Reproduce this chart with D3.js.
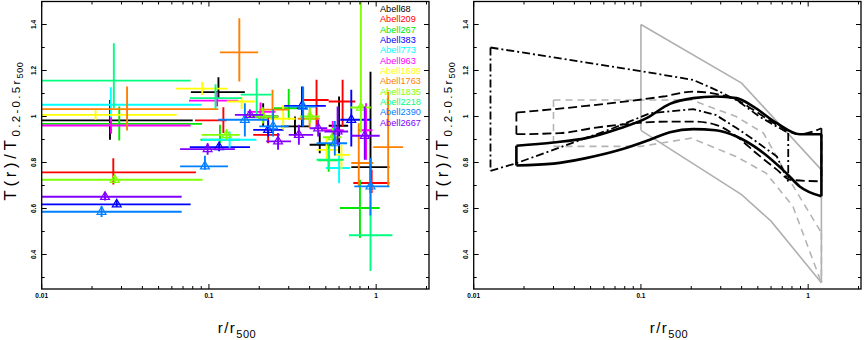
<!DOCTYPE html>
<html>
<head>
<meta charset="utf-8">
<script src="https://cdn.jsdelivr.net/npm/d3@7"></script>
<style>
  body { margin: 0; background: #fff; }
  text { font-family: "Liberation Sans", Arial, sans-serif; }
</style>
</head>
<body>
<script>
// cluster names, colours, and whether the points carry a triangle marker
const clusters = ["Abell68", "Abell209", "Abell267", "Abell383", "Abell773", "Abell963",
                  "Abell1689", "Abell1763", "Abell1835", "Abell2218", "Abell2390", "Abell2667"];
const colors = ["#000000", "#ff0000", "#00e800", "#0000ff", "#00ffff", "#ff00ff",
                "#ffff00", "#ff8000", "#80ff00", "#00ff80", "#0080ff", "#8000ff"];
const withTriangle = [false, false, false, true, false, false, false, false, true, false, true, true];

// each point: [r, rLo, rHi, T, TLo, THi]  (r in r500, T in T(0.2-0.5 r500))
const a68 = [[0.0256, 0.005, 0.080, 0.983, 0.899, 1.072], [0.114, 0.078, 0.164, 1.106, 1.08, 1.171],
             [0.211, 0.18, 0.26, 1.0, 0.957, 1.058], [0.327, 0.27, 0.40, 0.957, 0.913, 1.0],
             [0.46, 0.40, 0.56, 0.877, 0.84, 0.93], [0.60, 0.52, 0.68, 0.96, 0.84, 1.087],
             [0.925, 0.71, 1.2, 0.78, 0.667, 1.195]];
const a209 = [[0.0268, 0.005, 0.0836, 0.757, 0.704, 0.819], [0.122, 0.0825, 0.1275, 0.983, 0.928, 1.04],
              [0.226, 0.184, 0.265, 0.92, 0.884, 0.993], [0.44, 0.37, 0.52, 1.072, 0.957, 1.16],
              [0.63, 0.52, 0.75, 1.065, 0.957, 1.16], [0.94, 0.73, 1.2, 0.711, 0.667, 0.769]];
const a267 = [[0.0291, 0.005, 0.091, 0.968, 0.896, 1.043], [0.1164, 0.089, 0.153, 0.899, 0.884, 0.964],
              [0.30, 0.244, 0.366, 1.036, 0.986, 1.12], [0.52, 0.45, 0.60, 0.81, 0.76, 0.88],
              [0.80, 0.607, 1.05, 0.602, 0.472, 0.725]];
const a383 = [[0.0281, 0.005, 0.0777, 0.618, 0.606, 0.636], [0.115, 0.0768, 0.176, 0.867, 0.849, 0.884],
              [0.226, 0.184, 0.28, 0.942, 0.913, 0.986], [0.36, 0.28, 0.50, 1.046, 0.957, 1.13],
              [0.71, 0.61, 0.93, 0.986, 0.87, 1.116]];
const a773 = [[0.0259, 0.005, 0.0904, 1.051, 0.98, 1.127], [0.133, 0.091, 0.192, 0.899, 0.864, 0.935],
              [0.60, 0.50, 0.70, 0.776, 0.71, 0.84]];
const a963 = [[0.026, 0.005, 0.0777, 0.961, 0.925, 0.997], [0.112, 0.076, 0.15, 1.069, 1.043, 1.108],
              [0.2036, 0.17, 0.25, 1.02, 0.986, 1.061], [0.55, 0.47, 0.64, 0.94, 0.90, 0.98],
              [0.87, 0.78, 0.95, 0.94, 0.812, 1.058]];
const a1689 = [[0.021, 0.005, 0.0641, 1.007, 0.986, 1.029], [0.0912, 0.0636, 0.1288, 1.121, 1.094, 1.15],
               [0.157, 0.128, 0.188, 1.065, 1.033, 1.084], [0.278, 0.23, 0.33, 0.99, 0.942, 1.05],
               [0.505, 0.44, 0.59, 0.855, 0.812, 0.913], [0.62, 0.56, 0.70, 0.833, 0.77, 0.877]];
const a1763 = [[0.0324, 0.005, 0.1137, 1.032, 0.939, 1.130], [0.152, 0.1164, 0.197, 1.279, 1.152, 1.427],
               [0.24, 0.20, 0.30, 1.03, 0.986, 1.116], [0.40, 0.34, 0.46, 0.99, 0.95, 1.03],
               [0.787, 0.71, 0.96, 0.798, 0.696, 0.971], [1.18, 0.96, 1.45, 0.867, 0.696, 1.108]];
const a1835 = [[0.0273, 0.005, 0.0916, 0.725, 0.71, 0.74], [0.1276, 0.0904, 0.153, 0.920, 0.899, 0.942],
               [0.21, 0.17, 0.26, 1.0, 0.97, 1.04], [0.402, 0.35, 0.46, 1.0, 0.97, 1.04],
               [0.55, 0.48, 0.62, 0.91, 0.87, 0.95], [0.81, 0.70, 0.93, 1.039, 0.93, 1.6]];
const a2218 = [[0.027, 0.005, 0.0777, 1.156, 1.036, 1.318], [0.1095, 0.0768, 0.157, 1.08, 1.035, 1.14],
               [0.193, 0.155, 0.237, 1.095, 1.0, 1.166], [0.52, 0.44, 0.64, 0.812, 0.77, 0.86],
               [0.925, 0.687, 1.25, 0.484, 0.328, 0.725]];
const a2390 = [[0.0228, 0.005, 0.0687, 0.586, 0.563, 0.61], [0.0946, 0.0672, 0.13, 0.783, 0.769, 0.829],
               [0.164, 0.1137, 0.226, 0.986, 0.913, 1.058], [0.242, 0.20, 0.30, 0.957, 0.913, 1.03],
               [0.366, 0.30, 0.44, 1.043, 0.957, 1.13], [0.566, 0.44, 0.67, 0.884, 0.83, 0.98],
               [0.925, 0.74, 1.2, 0.696, 0.57, 0.82]];
const a2667 = [[0.0239, 0.005, 0.0687, 0.651, 0.635, 0.67], [0.0982, 0.0672, 0.143, 0.858, 0.834, 0.884],
               [0.176, 0.143, 0.211, 1.007, 0.993, 1.022], [0.259, 0.22, 0.31, 0.892, 0.855, 0.928],
               [0.345, 0.30, 0.42, 0.92, 0.877, 0.964], [0.45, 0.40, 0.51, 0.949, 0.913, 0.986],
               [0.588, 0.49, 0.68, 0.935, 0.877, 1.043], [0.855, 0.71, 1.05, 0.916, 0.812, 1.043]];
const profiles = [a68, a209, a267, a383, a773, a963, a1689, a1763, a1835, a2218, a2390, a2667];

// right panel: envelopes as [r, T] points
const greySolidUp = [[0.1, 1.4], [0.4, 1.145], [1.2, 0.768]];
const greySolidLo = [[0.1, 0.94], [0.4, 0.66], [0.6, 0.545], [1.2, 0.277]];
const greyDashUp = [[0.03, 1.072], [0.2, 1.072], [0.37, 1.0], [0.54, 0.928], [0.81, 0.70], [1.2, 0.494]];
const greyDashLo = [[0.03, 0.87], [0.1, 0.87], [0.2, 0.906], [0.37, 0.826], [0.56, 0.754], [0.81, 0.61], [1.2, 0.277]];
const solidUp = [[0.018, 0.873], [0.03, 0.887], [0.047, 0.906], [0.075, 0.949], [0.108, 0.993], [0.149, 1.055],
                 [0.2056, 1.08], [0.28, 1.087], [0.373, 1.08], [0.47, 1.043], [0.65, 0.971], [0.89, 0.923], [1.2, 0.923]];
const solidLo = [[0.018, 0.787], [0.03, 0.795], [0.047, 0.819], [0.075, 0.855], [0.113, 0.899], [0.149, 0.932],
                 [0.2056, 0.945], [0.28, 0.94], [0.373, 0.913], [0.51, 0.855], [0.74, 0.754], [0.89, 0.696], [1.2, 0.653]];
const dashUp = [[0.018, 1.017], [0.047, 1.046], [0.136, 1.087], [0.2056, 1.108], [0.28, 1.098], [0.373, 1.072],
                [0.47, 1.029], [0.65, 0.964], [0.89, 0.923], [1.2, 0.949]];
const dashLo = [[0.018, 0.923], [0.033, 0.928], [0.052, 0.95], [0.149, 0.978], [0.2056, 0.978], [0.28, 0.964],
                [0.373, 0.913], [0.49, 0.84], [0.65, 0.769], [0.78, 0.725], [1.2, 0.718]];
const dotUp = [[0.0126, 1.30], [0.113, 1.191], [0.2056, 1.159], [0.28, 1.116], [0.373, 1.072], [0.51, 1.0], [0.76, 0.928]];
const dotLo = [[0.0126, 0.764], [0.018, 0.797], [0.068, 0.949], [0.113, 1.014], [0.2056, 1.032], [0.28, 1.007],
               [0.373, 0.95], [0.47, 0.9], [0.65, 0.826], [0.76, 0.718]];

// tick values
const xMajor = [0.01, 0.1, 1];
const xMinor = [0.02, 0.03, 0.04, 0.05, 0.06, 0.07, 0.08, 0.09, 0.2, 0.3, 0.4, 0.5, 0.6, 0.7, 0.8, 0.9, 2];
const xLabels = ["0.01", "0.1", "1"];
const yMajor = [0.4, 0.6, 0.8, 1.0, 1.2, 1.4];
const yMinor = [0.3, 0.5, 0.7, 0.9, 1.1, 1.3, 1.5];
const yLabels = ["0.4", "0.6", "0.8", "1", "1.2", "1.4"];

const width = 864, height = 340;
const pw = 387.3, ph = 287.5, plotTop = 1.5;
const panelLeft = [41.7, 473.7];

const x = d3.scaleLog().domain([0.01, 2.07]).range([0, pw]);
const y = d3.scaleLinear().domain([0.25, 1.5]).range([ph, 0]);

const svg = d3.select("body").append("svg")
    .attr("width", width).attr("height", height);

svg.append("defs").append("clipPath").attr("id", "plotclip")
  .append("rect").attr("width", pw).attr("height", ph);

function drawFrame(g) {
  g.append("rect").attr("width", pw).attr("height", ph)
    .attr("fill", "none").attr("stroke", "#000").attr("stroke-width", 1.3);

  // inward ticks on all four sides
  const ticks = g.append("g").attr("stroke", "#000").attr("stroke-width", 1);
  xMajor.concat(xMinor).forEach(function(v) {
    const len = xMajor.includes(v) ? 5 : 3;
    ticks.append("line").attr("x1", x(v)).attr("x2", x(v)).attr("y1", ph).attr("y2", ph - len);
    ticks.append("line").attr("x1", x(v)).attr("x2", x(v)).attr("y1", 0).attr("y2", len);
  });
  yMajor.concat(yMinor).forEach(function(v) {
    const len = yMajor.includes(v) ? 5 : 3;
    ticks.append("line").attr("y1", y(v)).attr("y2", y(v)).attr("x1", 0).attr("x2", len);
    ticks.append("line").attr("y1", y(v)).attr("y2", y(v)).attr("x1", pw).attr("x2", pw - len);
  });

  xMajor.forEach(function(v, i) {
    g.append("text").attr("x", x(v)).attr("y", ph + 8.5)
      .attr("text-anchor", "middle").attr("font-size", 6.5).attr("font-weight", "bold")
      .text(xLabels[i]);
  });
  yMajor.forEach(function(v, i) {
    g.append("text").attr("transform", "translate(-5.5," + y(v) + ") rotate(-90)")
      .attr("text-anchor", "middle").attr("font-size", 6.5).attr("font-weight", "bold")
      .text(yLabels[i]);
  });

  // axis titles
  const xt = g.append("text").attr("x", 176).attr("y", 331.5).attr("font-size", 15)
    .attr("letter-spacing", 1.5);
  xt.append("tspan").text("r/r");
  xt.append("tspan").attr("font-size", 11).attr("dy", 5).attr("letter-spacing", 0.5).text("500");

  const yt = g.append("text").attr("transform", "translate(-25.5,199) rotate(-90)")
    .attr("font-size", 16.5).attr("letter-spacing", 3.8);
  yt.append("tspan").text("T(r)/T");
  yt.append("tspan").attr("font-size", 11.5).attr("dy", 4).attr("letter-spacing", 2.3).text("0.2-0.5r");
  yt.append("tspan").attr("font-size", 9).attr("dy", 3).attr("letter-spacing", 0.6).text("500");
}

// ---------- left panel ----------
const left = svg.append("g").attr("transform", "translate(" + panelLeft[0] + "," + plotTop + ")");
const pts = left.append("g").attr("clip-path", "url(#plotclip)");

profiles.forEach(function(data, k) {
  const c = pts.append("g").attr("stroke", colors[k]).attr("stroke-width", 1.9).attr("fill", "none");
  c.selectAll(".eh").data(data).enter().append("line")
    .attr("x1", function(d) { return x(d[1]); })
    .attr("x2", function(d) { return x(d[2]); })
    .attr("y1", function(d) { return y(d[3]); })
    .attr("y2", function(d) { return y(d[3]); });
  c.selectAll(".ev").data(data).enter().append("line")
    .attr("x1", function(d) { return x(d[0]); })
    .attr("x2", function(d) { return x(d[0]); })
    .attr("y1", function(d) { return y(d[4]); })
    .attr("y2", function(d) { return y(d[5]); });
  if (withTriangle[k]) {
    c.selectAll(".tri").data(data).enter().append("path")
      .attr("fill", "none").attr("stroke-width", 1.2)
      .attr("d", d3.symbol().type(d3.symbolTriangle).size(34))
      .attr("transform", function(d) { return "translate(" + x(d[0]) + "," + y(d[3]) + ")"; });
  }
});

// legend
clusters.forEach(function(name, i) {
  left.append("text").attr("x", 338.3).attr("y", 10.3 + i * 10.35)
    .attr("font-size", 9.2).attr("fill", colors[i]).text(name);
});

drawFrame(left);

// ---------- right panel ----------
const right = svg.append("g").attr("transform", "translate(" + panelLeft[1] + "," + plotTop + ")");
const bands = right.append("g").attr("clip-path", "url(#plotclip)").attr("fill", "none");

const straight = d3.line().x(function(d) { return x(d[0]); }).y(function(d) { return y(d[1]); });
const smooth = d3.line().curve(d3.curveMonotoneX)
    .x(function(d) { return x(d[0]); }).y(function(d) { return y(d[1]); });

function band(up, lo, line, stroke, w, dash) {
  const g = bands.append("g").attr("stroke", stroke).attr("stroke-width", w)
    .attr("stroke-dasharray", dash);
  g.append("path").attr("d", line(up));
  g.append("path").attr("d", line(lo));
  g.append("path").attr("d", straight([up[0], lo[0]]));
  g.append("path").attr("d", straight([up[up.length - 1], lo[lo.length - 1]]));
}

band(greySolidUp, greySolidLo, straight, "#b0b0b0", 1.6, null);
band(greyDashUp, greyDashLo, straight, "#b4b4b4", 1.6, "7,5");
band(dotUp, dotLo, straight, "#000", 1.8, "8,3,2,3");
band(dashUp, dashLo, smooth, "#000", 1.8, "9,4");
band(solidUp, solidLo, smooth, "#000", 2.6, null);

drawFrame(right);
</script>
</body>
</html>
